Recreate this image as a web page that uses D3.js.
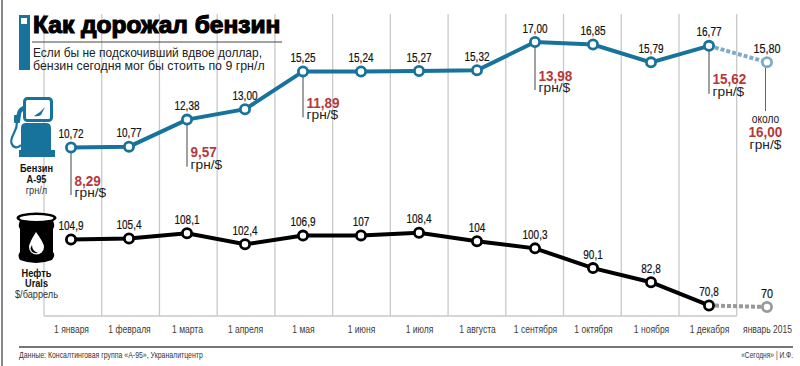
<!DOCTYPE html>
<html>
<head>
<meta charset="utf-8">
<script src="https://cdn.jsdelivr.net/npm/d3@7"></script>
<style>
html, body { margin: 0; padding: 0; background: #fff; }
svg { display: block; }
text { font-family: "Liberation Sans", sans-serif; fill: #222; }
</style>
</head>
<body>
<svg id="chart" width="800" height="366"></svg>
<script>
const months = ["1 января", "1 февраля", "1 марта", "1 апреля", "1 мая", "1 июня", "1 июля", "1 августа", "1 сентября", "1 октября", "1 ноября", "1 декабря", "январь 2015"];
const gasoline = [10.72, 10.77, 12.38, 13.00, 15.25, 15.24, 15.27, 15.32, 17.00, 16.85, 15.79, 16.77, 15.80];
const oil = [104.9, 105.4, 108.1, 102.4, 106.9, 107, 108.4, 104, 100.3, 90.1, 82.8, 70.8, 70];
const oilLabels = ["104,9", "105,4", "108,1", "102,4", "106,9", "107", "108,4", "104", "100,3", "90,1", "82,8", "70,8", "70"];
const rateMonths = ["1 января", "1 марта", "1 мая", "1 сентября", "1 декабря"];
const rateValues = ["8,29", "9,57", "11,89", "13,98", "15,62"];
const rateDrop = [47.5, 47, 46, 48, 48];

const blue = "#17739b", blueLight = "#7fabc6", grey = "#999", red = "#b5383a";

const svg = d3.select("#chart");
const x = d3.scalePoint().domain(months).range([71, 767]);
const gridX = d3.scalePoint().domain(months).range([44, 736.7]);
const yGas = d3.scaleLinear().domain([10, 17]).range([159.6, 42]);
const yOil = d3.scaleLinear().domain([70, 110]).range([307, 229.6]);

// no narrow face is installed, so squeeze the glyphs to the width in the picture
function narrow(sel, k) {
	sel.each(function() {
		this.setAttribute("textLength", this.getComputedTextLength() * k);
		this.setAttribute("lengthAdjust", "spacingAndGlyphs");
	});
	return sel;
}

// frame
svg.append("line").attr("x1", 2).attr("x2", 2).attr("y1", 0).attr("y2", 366).attr("stroke", "#888").attr("stroke-width", 2);

// grid
svg.append("g").selectAll("line").data(months).join("line")
	.attr("x1", d => gridX(d))
	.attr("x2", d => gridX(d))
	.attr("y1", 14).attr("y2", 316)
	.attr("stroke", "#c9c9c9").attr("stroke-width", 1.3);
svg.append("line").attr("x1", 44).attr("x2", 736.7).attr("y1", 316).attr("y2", 316)
	.attr("stroke", "#c9c9c9").attr("stroke-width", 1.3);

// axis
let axis = svg.append("g").attr("transform", "translate(0,316)")
	.call(d3.axisBottom(x).tickSize(0).tickPadding(9));
axis.select(".domain").remove();
axis.selectAll("text").attr("font-family", null).attr("font-size", 11.5).style("fill", "#3a3a3a");
narrow(axis.selectAll("text"), 0.74);

// header
svg.append("rect").attr("x", 19).attr("y", 15).attr("width", 11).attr("height", 55).attr("fill", blue);
svg.append("rect").attr("x", 21).attr("y", 18).attr("width", 6).attr("height", 6).attr("fill", "#fff");
svg.append("text").attr("x", 33).attr("y", 33).text("Как дорожал бензин")
	.attr("font-weight", 700).attr("font-size", 24.5)
	.style("fill", "#000").attr("stroke", "#000").attr("stroke-width", 1.2);
svg.append("line").attr("x1", 32).attr("x2", 282).attr("y1", 42).attr("y2", 42).attr("stroke", "#444").attr("stroke-width", 1);
const subtitle = ["Если бы не подскочивший вдвое доллар,", "бензин сегодня мог бы стоить по 9 грн/л"];
const subtitleFit = [0.98, 1.015];
svg.append("g").selectAll("text").data(subtitle).join("text")
	.attr("x", 33).attr("y", (d, i) => 57 + i * 13).text(d => d)
	.attr("font-size", 12.2)
	.each(function(d, i) { narrow(d3.select(this), subtitleFit[i]); });

// rate annotations
const rates = rateMonths.map((m, i) => ({m, v: rateValues[i], drop: rateDrop[i], y: yGas(gasoline[months.indexOf(m)])}));
const rate = svg.append("g").selectAll("g").data(rates).join("g")
	.attr("transform", d => `translate(${x(d.m)},${d.y})`);
rate.append("line").attr("y2", d => d.drop).attr("stroke", "#444").attr("stroke-width", 1);
narrow(rate.append("text").attr("x", 3.5).attr("y", d => d.drop - 9.5).text(d => d.v)
	.attr("font-size", 15).attr("font-weight", 700).style("fill", red), 0.9);
narrow(rate.append("text").attr("x", 3.5).attr("y", d => d.drop + 2).text("грн/$")
	.attr("font-size", 12.5), 1.1);

// forecast note
const last = months[12];
const noteX = x(last) - 1.5;
svg.append("line").attr("x1", noteX).attr("x2", noteX).attr("y1", yGas(gasoline[12])).attr("y2", 111).attr("stroke", "#666").attr("stroke-width", 1);
narrow(svg.append("text").attr("x", noteX).attr("y", 123).attr("text-anchor", "middle").text("около").attr("font-size", 12), 0.85);
narrow(svg.append("text").attr("x", noteX).attr("y", 137).attr("text-anchor", "middle").text("16,00")
	.attr("font-size", 15).attr("font-weight", 700).style("fill", red), 0.9);
narrow(svg.append("text").attr("x", noteX).attr("y", 148.5).attr("text-anchor", "middle").text("грн/$")
	.attr("font-size", 12.5), 1.1);

// series
function drawSeries(values, y, color, fade, labels) {
	let line = d3.line().x((d, i) => x(months[i])).y(d => y(d));
	let g = svg.append("g");
	g.append("path").attr("d", line(values.slice(0, 12))).attr("fill", "none").attr("stroke", color).attr("stroke-width", 4);
	g.append("line")
		.attr("x1", x(months[11])).attr("y1", y(values[11]))
		.attr("x2", x(months[12])).attr("y2", y(values[12]))
		.attr("stroke", fade).attr("stroke-width", 4).attr("stroke-dasharray", "4 2");
	g.selectAll("circle").data(values).join("circle")
		.attr("cx", (d, i) => x(months[i])).attr("cy", d => y(d)).attr("r", 4.6)
		.attr("fill", "#fff").attr("stroke", (d, i) => i == 12 ? fade : color).attr("stroke-width", 2.8);
	let vals = g.selectAll("text").data(values).join("text")
		.attr("x", (d, i) => x(months[i])).attr("y", d => y(d) - 9.5)
		.attr("text-anchor", "middle").attr("font-size", (d, i) => i == 12 ? 13 : 12)
		.style("fill", "#111").attr("stroke", "#111").attr("stroke-width", 0.2)
		.text((d, i) => labels[i]);
	narrow(vals, 0.83);
}
drawSeries(gasoline, yGas, blue, blueLight, gasoline.map(d => d3.format(".2f")(d).replace(".", ",")));
drawSeries(oil, yOil, "#000", grey, oilLabels);

// pump icon
const pump = svg.append("g").attr("fill", blue);
pump.append("path").attr("d", "M21 150 V128 Q21 123 26 123 H46 Q51 123 51 128 V150 H55 V157 H19 V150 Z");
pump.append("rect").attr("x", 24.5).attr("y", 98.5).attr("width", 27).attr("height", 22).attr("rx", 3).attr("fill", "#fff").attr("stroke", blue).attr("stroke-width", 3);
pump.append("path").attr("d", "M34 116 Q40 113 45 107 L41 115 Q38 117 34 116 Z");
pump.append("path").attr("d", "M23 106 Q18 108 17 113 L15 122 H20 L21 115 Q21 112 23 111 Z");
pump.append("path").attr("d", "M17 122 Q17 128 14 133 Q9 142 13 146 Q17 149 21 145").attr("fill", "none").attr("stroke", blue).attr("stroke-width", 2.2);
pump.append("rect").attr("x", 14).attr("y", 115).attr("width", 6).attr("height", 8).attr("rx", 1);

// barrel icon
const barrel = svg.append("g");
barrel.append("path").attr("d", "M21 219 Q17 225 20 229 V252 Q17 255 20 260 Q36 266 52 260 Q56 255 53 252 V229 Q56 225 52 219 Z").attr("fill", "#000");
barrel.append("ellipse").attr("cx", 36.5).attr("cy", 218).attr("rx", 20).attr("ry", 5.5).attr("fill", "#000");
barrel.append("ellipse").attr("cx", 36.5).attr("cy", 218).attr("rx", 17).attr("ry", 3).attr("fill", "#fff");
barrel.append("path").attr("d", "M36 232 Q29 243 29 247 A7.5 7.5 0 0 0 44 247 Q44 243 36 232 Z").attr("fill", "#fff");
barrel.append("path").attr("d", "M32 245 Q32 251 38 253 Q31 254 30.5 248 Z").attr("fill", "#000");

// icon captions
function caption(lines, cx, y0, dy) {
	lines.forEach((l, i) => {
		narrow(svg.append("text").attr("x", cx).attr("y", y0 + i * dy).attr("text-anchor", "middle")
			.attr("font-size", 11.5).attr("font-weight", i < 2 ? 700 : 400).style("fill", i < 2 ? "#111" : "#333").text(l), 0.8);
	});
}
caption(["Бензин", "А-95", "грн/л"], 36.5, 172, 11);
caption(["Нефть", "Urals", "$/баррель"], 36.5, 276.7, 10.5);

// footer
svg.append("line").attr("x1", 19).attr("x2", 793).attr("y1", 347).attr("y2", 347).attr("stroke", "#777").attr("stroke-width", 2);
narrow(svg.append("text").attr("x", 19).attr("y", 358).attr("font-size", 9.5).style("fill", "#333").text("Данные: Консалтинговая группа «А-95», Украналитцентр"), 0.73);
narrow(svg.append("text").attr("x", 793).attr("y", 358).attr("text-anchor", "end").attr("font-size", 9.5).style("fill", "#333").text("«Сегодня» | И.Ф."), 0.7);
</script>
</body>
</html>
